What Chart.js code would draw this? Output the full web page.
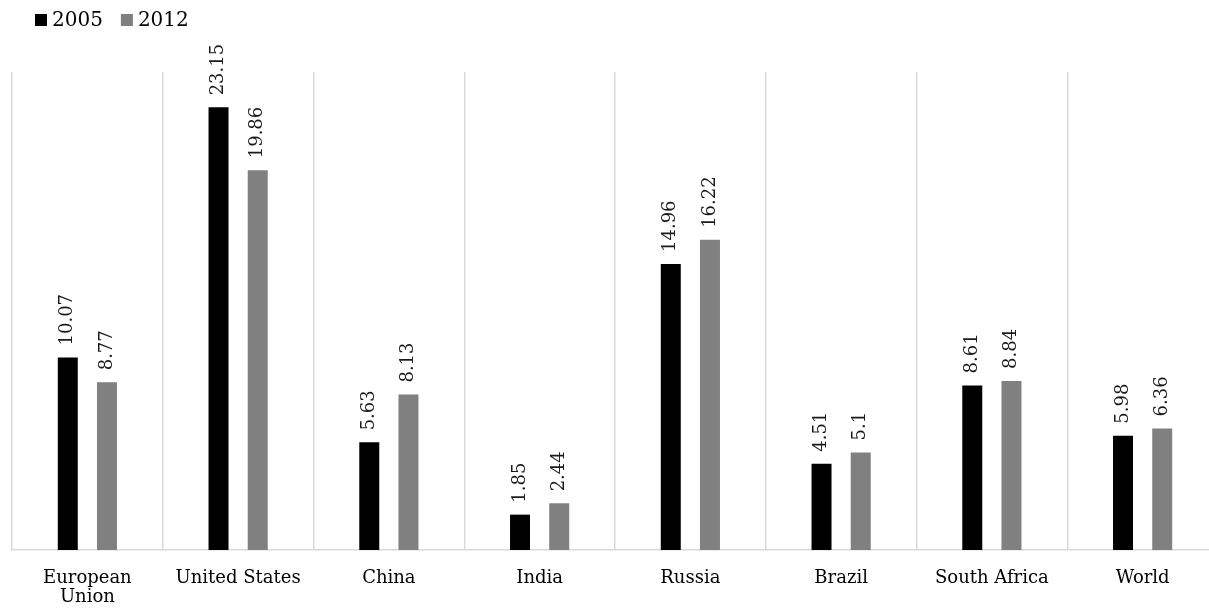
<!DOCTYPE html>
<html>
<head>
<meta charset="utf-8">
<script src="https://cdn.jsdelivr.net/npm/chart.js@4.4.0/dist/chart.umd.min.js"></script>
<style>
  html, body { margin: 0; padding: 0; overflow: hidden; background: #fff; }
  #wrap { width: 1218px; height: 608px; }
</style>
</head>
<body>
<div id="wrap"><canvas id="chart1"></canvas></div>
<script>
const categories = [['European', 'Union'], 'United States', 'China', 'India', 'Russia', 'Brazil', 'South Africa', 'World'];
const seriesNames = ['2005', '2012'];
const values2005 = [10.07, 23.15, 5.63, 1.85, 14.96, 4.51, 8.61, 5.98];
const values2012 = [8.77, 19.86, 8.13, 2.44, 16.22, 5.1, 8.84, 6.36];

// rotated value labels above each bar + simple top-left legend
const barLabels = {
  id: 'barLabels',
  afterDatasetsDraw(chart) {
    const ctx = chart.ctx;
    ctx.save();
    ctx.font = '18px "DejaVu Serif"';
    ctx.fillStyle = '#1a1a1a';
    ctx.textAlign = 'left';
    ctx.textBaseline = 'middle';
    chart.data.datasets.forEach((ds, i) => {
      chart.getDatasetMeta(i).data.forEach((bar, j) => {
        ctx.save();
        ctx.translate(bar.x, bar.y - 12);
        ctx.rotate(-Math.PI / 2);
        ctx.fillText(String(ds.data[j]), 0, 0);
        ctx.restore();
      });
    });

    // legend
    ctx.font = '20px "DejaVu Serif"';
    let x = 35;
    chart.data.datasets.forEach(ds => {
      ctx.fillStyle = ds.backgroundColor;
      ctx.fillRect(x, 14, 12, 12);
      ctx.fillStyle = '#000';
      ctx.fillText(ds.label, x + 17, 21);
      x += 17 + ctx.measureText(ds.label).width + 18;
    });
    ctx.restore();
  }
};

const ctx1 = document.getElementById('chart1').getContext('2d');
new Chart(ctx1, {
  type: 'bar',
  data: {
    labels: categories,
    datasets: [{
      label: seriesNames[0],
      data: values2005,
      backgroundColor: '#000000',
      categoryPercentage: 0.52,
      barPercentage: 0.51
    }, {
      label: seriesNames[1],
      data: values2012,
      backgroundColor: '#808080',
      categoryPercentage: 0.52,
      barPercentage: 0.51
    }]
  },
  options: {
    responsive: true,
    maintainAspectRatio: false,
    animation: false,
    layout: {
      padding: { left: 12, right: 0, top: 72, bottom: 0 }
    },
    plugins: {
      legend: { display: false },
      tooltip: { enabled: false }
    },
    scales: {
      x: {
        afterFit: axis => { axis.height = 58; },
        grid: {
          color: '#d9d9d9',
          lineWidth: 1.5,
          drawTicks: false,
          offset: true
        },
        border: { color: '#d9d9d9', width: 1.5 },
        ticks: {
          font: { family: 'DejaVu Serif', size: 18, lineHeight: 1.1 },
          color: '#000',
          padding: 18,
          maxRotation: 0,
          autoSkip: false
        }
      },
      y: {
        display: false,
        min: 0,
        max: 25
      }
    }
  },
  plugins: [barLabels]
});
</script>
</body>
</html>
